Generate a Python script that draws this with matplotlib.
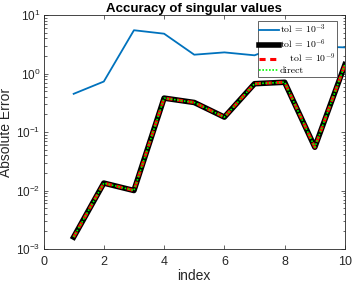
import matplotlib
matplotlib.use('Agg')
import matplotlib.pyplot as plt
from matplotlib.font_manager import FontProperties
from matplotlib.ticker import LogLocator, NullFormatter

plt.rcParams['font.family'] = ['Liberation Sans', 'DejaVu Sans']
plt.rcParams['mathtext.fontset'] = 'custom'
plt.rcParams['mathtext.rm'] = 'Liberation Sans'
plt.rcParams['mathtext.it'] = 'Liberation Sans:italic'

idx = [1, 2, 3, 4, 5, 6, 7, 8, 9, 10]
err_tol3 = [0.45, 0.73, 5.5, 4.8, 2.1, 2.3, 2.05, 3.2, 2.9, 2.8]
err_tol6 = [0.0016, 0.0134, 0.0100, 0.38, 0.32, 0.18, 0.67, 0.71, 0.055, 1.42]
err_tol9 = list(err_tol6)
err_direct = list(err_tol6)

fig = plt.figure(figsize=(3.52, 2.84), dpi=100)
ax = fig.add_axes([0.1236, 0.1232, 0.8564, 0.8238])

ax.semilogy(idx, err_tol3, color='#0072BD', lw=1.3, label='tol = $10^{-3}$')
ax.semilogy(idx, err_tol6, color='black', lw=4.0, label='tol = $10^{-6}$')
ax.semilogy(idx, err_tol9, color='red', lw=2.2, ls=(0, (2, 1.5)), label='   tol = $10^{-9}$')
ax.semilogy(idx, err_direct, color='#00ff00', lw=1.2, ls=(0, (1, 1)), label='direct')

ax.set_xlim(0, 10)
ax.set_ylim(1e-3, 1e1)
ax.set_xticks([0, 2, 4, 6, 8, 10])
ax.yaxis.set_major_locator(LogLocator(base=10, numticks=10))
ax.yaxis.set_minor_locator(LogLocator(base=10, subs=range(2, 10), numticks=20))
ax.yaxis.set_minor_formatter(NullFormatter())

for s in ax.spines.values():
    s.set_color('#262626')
    s.set_linewidth(0.6)
ax.tick_params(which='both', direction='in', top=True, right=True,
               colors='#262626', labelsize=9, width=0.5)
ax.tick_params(which='major', length=3)
ax.tick_params(which='minor', length=1.8)
ax.tick_params(axis='x', pad=5)
ax.tick_params(axis='y', pad=2, labelsize=8.5)

ax.set_xlabel('index', fontsize=10, color='#262626', labelpad=1)
ax.set_ylabel('Absolute Error', fontsize=10, color='#262626')
ax.yaxis.set_label_coords(-0.1, 0.5)
ax.set_title('Accuracy of singular values', fontsize=9.5, fontweight='bold', pad=2)

legfont = FontProperties(family='cmr10', size=7, math_fontfamily='cm')
leg = ax.legend(loc='upper right', prop=legfont,
                handlelength=2.0, handletextpad=0.1, borderpad=0.2, labelspacing=0.1,
                borderaxespad=0, fancybox=False, framealpha=1, edgecolor='#262626',
                bbox_to_anchor=(0.975, 0.975))
leg.get_frame().set_linewidth(0.5)

fig.savefig('out.png', dpi=100)
